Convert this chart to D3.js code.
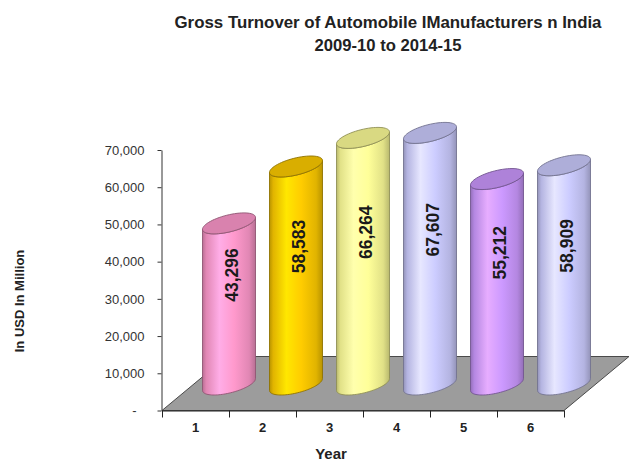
<!DOCTYPE html>
<html>
<head>
<meta charset="utf-8">
<script src="https://cdn.jsdelivr.net/npm/d3@7"></script>
<style>
  html, body { margin: 0; padding: 0; background: #ffffff; }
  svg { display: block; }
  text { font-family: Arial, "Liberation Sans", sans-serif; }
</style>
</head>
<body>
<svg id="chart" width="631" height="463"></svg>
<script>
// Gross turnover of automobile manufacturers in India, 2009-10 to 2014-15
const categories = ["1", "2", "3", "4", "5", "6"];
const turnover = [43296, 58583, 66264, 67607, 55212, 58909];
const barColors = ["#ff99cc", "#ffcc00", "#ffff99", "#ccccff", "#cc99ff", "#ccccff"];
const yTicks = [0, 10000, 20000, 30000, 40000, 50000, 60000, 70000];
const titleLines = ["Gross Turnover of Automobile IManufacturers n India", "2009-10 to 2014-15"];
const yTitle = "In USD In Million";
const xTitle = "Year";

(function () {
const svg = d3.select("#chart");
const defs = svg.append("defs");

// plot frame: front floor edge and oblique depth of the 3-D floor
const plotLeft = 162, plotRight = 564, plotBase = 410.5, plotTop = 150;
const depthX = 65, depthY = 54;

const x = d3.scaleBand().domain(categories).range([plotLeft, plotRight]);
const xEdge = d3.scaleLinear().domain([0, categories.length]).range([plotLeft, plotRight]);
const y = d3.scaleLinear().domain([0, 70000]).range([plotBase, plotTop]);

// floor
svg.append("path")
  .attr("d", `M${plotLeft},${plotBase} L${plotRight},${plotBase} L${plotRight + depthX},${plotBase - depthY} L${plotLeft + depthX},${plotBase - depthY} Z`)
  .attr("fill", "#9c9c9c")
  .attr("stroke", "#4a4a4a")
  .attr("stroke-width", 1);

// cylinders sit half way into the floor depth
const midX = depthX / 2 + 1, midY = depthY / 2 - 1;
const R = 26.5, ry = 10.5, skew = 15;
const ax = Math.sqrt(R * R - skew * skew);
const th0 = Math.atan2(skew, ax);
const pt = (cx, cy, t) => [cx + ax * Math.cos(t) + skew * Math.sin(t), cy - ry * Math.sin(t)];
const arc = (cx, cy, t1, t2, n) => d3.range(n + 1).map(k => pt(cx, cy, t1 + (t2 - t1) * k / n));

categories.forEach((c, i) => {
  const col = d3.color(barColors[i]);
  const gid = "cyl" + i;
  const g = defs.append("linearGradient").attr("id", gid)
    .attr("x1", 0).attr("x2", 1).attr("y1", 0).attr("y2", 0);
  [[0, col.darker(0.9)], [0.07, col.darker(0.35)], [0.32, col.brighter(0.35)],
   [0.6, col], [0.88, col.darker(0.35)], [1, col.darker(0.9)]]
    .forEach(([o, cc]) => g.append("stop").attr("offset", o).attr("stop-color", cc));

  const cx = x(c) + x.bandwidth() / 2 + midX;
  const yb = y(0) - midY;
  const yt = y(turnover[i]) - midY;

  const body = [pt(cx, yt, th0 + Math.PI)]
    .concat(arc(cx, yb, th0 + Math.PI, th0 + 2 * Math.PI, 48))
    .concat([pt(cx, yt, th0)])
    .concat(arc(cx, yt, th0, th0 - Math.PI, 48));
  svg.append("path")
    .attr("d", d3.line()(body) + "Z")
    .attr("fill", `url(#${gid})`)
    .attr("stroke", col.darker(1.6))
    .attr("stroke-width", 0.9);

  svg.append("path")
    .attr("d", d3.line()(arc(cx, yt, 0, 2 * Math.PI, 64)) + "Z")
    .attr("fill", col.darker(0.45))
    .attr("stroke", col.darker(1.6))
    .attr("stroke-width", 0.9);

  svg.append("text")
    .attr("transform", `translate(${cx + 3},${y(turnover[i] / 2) - midY - 29}) rotate(-90)`)
    .attr("text-anchor", "middle")
    .attr("dominant-baseline", "central")
    .attr("font-size", 17.5)
    .attr("font-weight", "bold")
    .attr("fill", "#1a1a1a")
    .text(d3.format(",")(turnover[i]));
});

// value axis
const yAxis = svg.append("g")
  .attr("transform", `translate(${plotLeft - 0.5},0)`)
  .call(d3.axisLeft(y).tickValues(yTicks).tickSize(4).tickSizeOuter(0).tickPadding(13)
    .tickFormat(d => d === 0 ? "-" : d3.format(",")(d)));
yAxis.select(".domain").attr("stroke", "#333");
yAxis.selectAll(".tick line").attr("stroke", "#333");
yAxis.selectAll(".tick text").attr("font-size", 13).attr("fill", "#333")
  .attr("font-family", "Arial, 'Liberation Sans', sans-serif");
yAxis.selectAll(".tick text").filter(d => d === 0).attr("dx", -8);

// category axis: ticks at band edges, labels at band centres
const xTicks = svg.append("g")
  .attr("transform", `translate(0,${plotBase})`)
  .call(d3.axisBottom(xEdge).tickValues(d3.range(categories.length + 1)).tickSize(7).tickSizeOuter(0).tickFormat(""));
xTicks.select(".domain").attr("stroke", "#222");
xTicks.selectAll(".tick line").attr("stroke", "#222");

const xLabels = svg.append("g")
  .attr("transform", `translate(0,${plotBase})`)
  .call(d3.axisBottom(x).tickSize(0).tickPadding(12));
xLabels.select(".domain").remove();
xLabels.selectAll(".tick text").attr("font-size", 13).attr("font-weight", "bold").attr("fill", "#222")
  .attr("font-family", "Arial, 'Liberation Sans', sans-serif");

// titles (condensed bold face)
svg.append("text")
  .attr("x", 388).attr("y", 28)
  .attr("text-anchor", "middle").attr("font-size", 16.5).attr("font-weight", "bold").attr("fill", "#222")
  .attr("textLength", 427).attr("lengthAdjust", "spacingAndGlyphs")
  .text(titleLines[0]);
svg.append("text")
  .attr("x", 388).attr("y", 51)
  .attr("text-anchor", "middle").attr("font-size", 16.5).attr("font-weight", "bold").attr("fill", "#222")
  .attr("textLength", 147).attr("lengthAdjust", "spacingAndGlyphs")
  .text(titleLines[1]);

svg.append("text")
  .attr("transform", "translate(24,301) rotate(-90)")
  .attr("text-anchor", "middle").attr("font-size", 13).attr("font-weight", "bold").attr("fill", "#222")
  .text(yTitle);

svg.append("text")
  .attr("x", 331).attr("y", 459)
  .attr("text-anchor", "middle").attr("font-size", 15).attr("font-weight", "bold").attr("fill", "#222")
  .text(xTitle);
})();
</script>
</body>
</html>
